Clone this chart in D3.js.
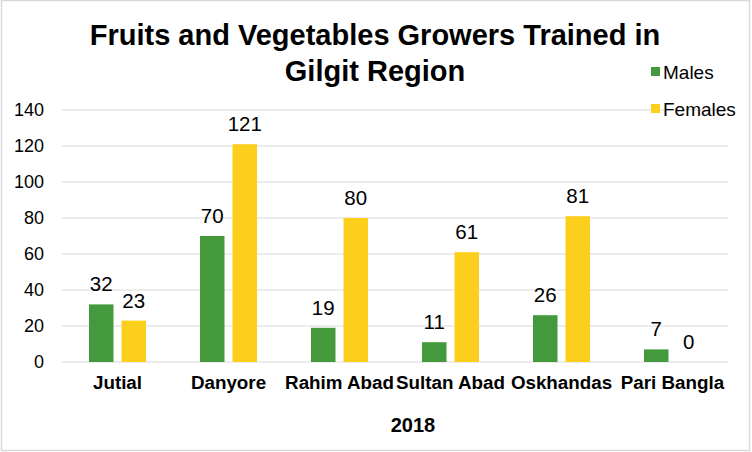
<!DOCTYPE html>
<html><head><meta charset="utf-8">
<script src="https://cdn.jsdelivr.net/npm/d3@7"></script>
<style>body{margin:0;background:#fff}svg{display:block;font-family:"Liberation Sans",Arial,sans-serif}</style>
</head><body>
<svg id="c" width="752" height="452"></svg>
<script>
const categories = ["Jutial","Danyore","Rahim Abad","Sultan Abad","Oskhandas","Pari Bangla"];
const males = [32,70,19,11,26,7];
const females = [23,121,80,61,81,0];
const seriesNames = ["Males","Females"];
const yTicks = [0,20,40,60,80,100,120,140];
const colors = ["#43993b","#fccf1c"];

const svg = d3.select("#c");
svg.append("rect").attr("x",1.5).attr("y",0.5).attr("width",748).attr("height",450)
  .attr("fill","#fff").attr("stroke","#d9d9d9").attr("stroke-width",1.5);

const L=62, R=728, T=110, B=362;
const x = d3.scaleBand().domain(categories).range([L,R]);
const y = d3.scaleLinear().domain([0,140]).range([B,T]);

// gridlines
svg.append("g").selectAll("line").data(yTicks).join("line")
  .attr("x1",L).attr("x2",R).attr("y1",d=>y(d)).attr("y2",d=>y(d))
  .attr("stroke","#d9d9d9").attr("stroke-width",1);

// y axis
const ya = svg.append("g").attr("transform",`translate(${L},0)`)
  .call(d3.axisLeft(y).tickValues(yTicks).tickSize(0).tickPadding(18));
ya.select(".domain").remove();
ya.selectAll("text").attr("font-size",18).attr("fill","#000").attr("font-family","Liberation Sans, Arial, sans-serif");

// x axis labels
const xa = svg.append("g").attr("transform",`translate(0,${B})`)
  .call(d3.axisBottom(x).tickSize(0).tickPadding(14));
xa.select(".domain").remove();
xa.selectAll("text").attr("font-size",18.8).attr("font-weight","bold").attr("fill","#000")
  .attr("font-family","Liberation Sans, Arial, sans-serif");

const data = categories.map((c,i)=>({c, vals:[males[i],females[i]]}));
const bw = 24.5, gw = 57;

const g = svg.append("g").selectAll("g").data(data).join("g")
  .attr("transform",d=>`translate(${x(d.c)+x.bandwidth()/2-gw/2},0)`);
g.selectAll("rect").data(d=>d.vals.map((v,k)=>({v,k}))).join("rect")
  .attr("x",d=>d.k*(gw-bw)).attr("width",bw)
  .attr("y",d=>y(d.v)).attr("height",d=>B-y(d.v))
  .attr("fill",d=>colors[d.k]);
g.selectAll("text").data(d=>d.vals.map((v,k)=>({v,k}))).join("text")
  .attr("x",d=>d.k*(gw-bw)+bw/2).attr("y",d=>y(d.v)-13)
  .attr("text-anchor","middle").attr("font-size",20.5).attr("fill","#000")
  .text(d=>d.v);

// title
const title = svg.append("text").attr("text-anchor","middle").attr("font-size",29)
  .attr("font-weight","bold").attr("fill","#000");
title.append("tspan").attr("x",375).attr("y",45).text("Fruits and Vegetables Growers Trained in");
title.append("tspan").attr("x",375).attr("y",81).text("Gilgit Region");

// x axis title
svg.append("text").attr("x",413).attr("y",432).attr("text-anchor","middle")
  .attr("font-size",20).attr("font-weight","bold").text("2018");

// legend
const lg = svg.append("g").selectAll("g").data(seriesNames).join("g")
  .attr("transform",(d,i)=>`translate(651,${72+i*37})`);
lg.append("rect").attr("x",0).attr("y",-5).attr("width",9).attr("height",9).attr("fill",(d,i)=>colors[i]);
lg.append("text").attr("x",12).attr("y",6.5).attr("font-size",19).text(d=>d);
</script>
</body></html>
